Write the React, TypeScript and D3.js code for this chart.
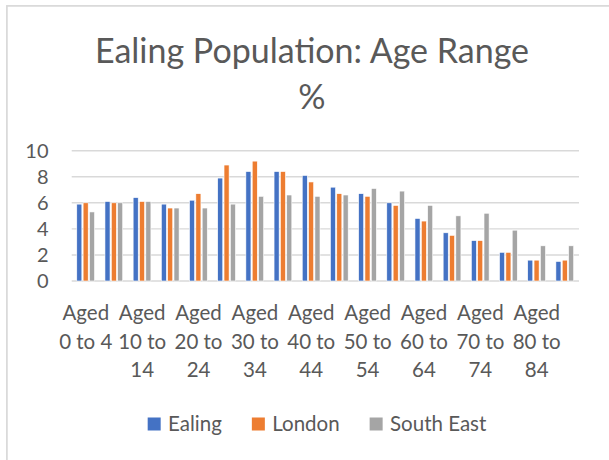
import React, { useEffect, useRef } from "react";
import * as d3 from "d3";

const categories = [
  "Aged 0 to 4", "Aged 5 to 9", "Aged 10 to 14", "Aged 15 to 19", "Aged 20 to 24",
  "Aged 25 to 29", "Aged 30 to 34", "Aged 35 to 39", "Aged 40 to 44", "Aged 45 to 49",
  "Aged 50 to 54", "Aged 55 to 59", "Aged 60 to 64", "Aged 65 to 69", "Aged 70 to 74",
  "Aged 75 to 79", "Aged 80 to 84", "Aged 85 and over",
];
const seriesNames = ["Ealing", "London", "South East"];
const ealing = [5.9, 6.1, 6.4, 5.9, 6.2, 7.9, 8.4, 8.4, 8.1, 7.2, 6.7, 6.0, 4.8, 3.7, 3.1, 2.2, 1.6, 1.5];
const london = [6.0, 6.0, 6.1, 5.6, 6.7, 8.9, 9.2, 8.4, 7.6, 6.7, 6.5, 5.8, 4.6, 3.5, 3.1, 2.2, 1.6, 1.6];
const southEast = [5.3, 6.0, 6.1, 5.6, 5.6, 5.9, 6.5, 6.6, 6.5, 6.6, 7.1, 6.9, 5.8, 5.0, 5.2, 3.9, 2.7, 2.7];
const yTicks = [0, 2, 4, 6, 8, 10];
const colors = ["#4472C4", "#ED7D31", "#A5A5A5"];
const titleLines = ["Ealing Population: Age Range", "%"];

const FONT = "Lato, 'Open Sans', sans-serif";
const TEXT = "#595959";

function wrapLabel(label: string, maxChars: number): string[] {
  const words = label.split(" ");
  const lines: string[] = [words[0]];
  let cur = "";
  for (const w of words.slice(1)) {
    const cand = cur ? cur + " " + w : w;
    if (cand.length > maxChars && cur) {
      lines.push(cur);
      cur = w;
    } else cur = cand;
  }
  if (cur) lines.push(cur);
  return lines;
}

export default function App() {
  const ref = useRef<SVGSVGElement | null>(null);

  useEffect(() => {
    const svg = d3.select(ref.current);
    svg.selectAll("*").remove();
    const W = 609, H = 460;
    const left = 71.7, right = 579, top = 150.7, bottom = 281;

    svg.append("rect").attr("width", W).attr("height", H).attr("fill", "#fff");
    svg.append("rect").attr("x", 6.9).attr("y", 5.9).attr("width", 1000).attr("height", 1000)
      .attr("fill", "none").attr("stroke", "#d9d9d9").attr("stroke-width", 1.7);

    // title
    const title = svg.append("text").attr("font-family", FONT).attr("font-size", 34)
      .attr("fill", TEXT).attr("text-anchor", "middle");
    titleLines.forEach((t, i) => {
      title.append("tspan").attr("x", 312).attr("y", 63 + i * 46).text(t);
    });

    const x0 = d3.scaleBand<string>().domain(categories).range([left, right]).padding(0);
    const bw = x0.bandwidth();
    const x1 = d3.scaleBand<number>().domain([0, 1, 2]).range([bw * 0.18, bw * 0.81]).paddingInner(0.2);
    const y = d3.scaleLinear().domain([0, 10]).range([bottom, top]);

    // gridlines
    svg.append("g").selectAll("line").data(yTicks).join("line")
      .attr("x1", left).attr("x2", right)
      .attr("y1", (d) => y(d)).attr("y2", (d) => y(d))
      .attr("stroke", "#d9d9d9").attr("stroke-width", 1.4);

    // y tick labels
    svg.append("g").selectAll("text").data(yTicks).join("text")
      .attr("x", 48.5).attr("y", (d) => y(d)).attr("dy", "0.35em")
      .attr("text-anchor", "end").attr("font-family", FONT).attr("font-size", 20)
      .attr("fill", TEXT).text((d) => String(d));

    // bars
    const series = [ealing, london, southEast];
    series.forEach((vals, si) => {
      svg.append("g").selectAll("rect").data(vals).join("rect")
        .attr("x", (d, i) => (x0(categories[i]) as number) + (x1(si) as number))
        .attr("width", x1.bandwidth())
        .attr("y", (d) => y(d))
        .attr("height", (d) => y(0) - y(d))
        .attr("fill", colors[si])
        .attr("stroke", "#fff").attr("stroke-width", 0.6);
    });

    // x labels (every other)
    const xl = svg.append("g");
    categories.forEach((c, i) => {
      if (i % 2 !== 0) return;
      const cx = (x0(c) as number) + bw / 2;
      const lines = wrapLabel(c, 6);
      const t = xl.append("text").attr("font-family", FONT).attr("font-size", 20.5)
        .attr("fill", TEXT).attr("text-anchor", "middle");
      lines.forEach((ln, li) => {
        t.append("tspan").attr("x", cx).attr("y", 320 + li * 28.5).text(ln);
      });
    });

    // legend
    const lg = svg.append("g");
    const sq = 13, gapSq = 7.4, gapItem = 30;
    const items: { name: string; w: number; color: string }[] = [];
    seriesNames.forEach((n, i) => {
      const tmp = lg.append("text").attr("font-family", FONT).attr("font-size", 20.5).text(n);
      const w = (tmp.node() as SVGTextElement).getComputedTextLength();
      tmp.remove();
      items.push({ name: n, w, color: colors[i] });
    });
    const total = items.reduce((s, it) => s + sq + gapSq + it.w, 0) + gapItem * (items.length - 1);
    let cx = 317 - total / 2;
    items.forEach((it) => {
      lg.append("rect").attr("x", cx).attr("y", 417.5).attr("width", sq).attr("height", sq).attr("fill", it.color);
      lg.append("text").attr("x", cx + sq + gapSq).attr("y", 424).attr("dy", "0.35em")
        .attr("font-family", FONT).attr("font-size", 20.5).attr("fill", TEXT).text(it.name);
      cx += sq + gapSq + it.w + gapItem;
    });
  }, []);

  return (
    <svg ref={ref} width={609} height={460}
      style={{ position: "absolute", left: 0, top: 0, display: "block" }} />
  );
}
